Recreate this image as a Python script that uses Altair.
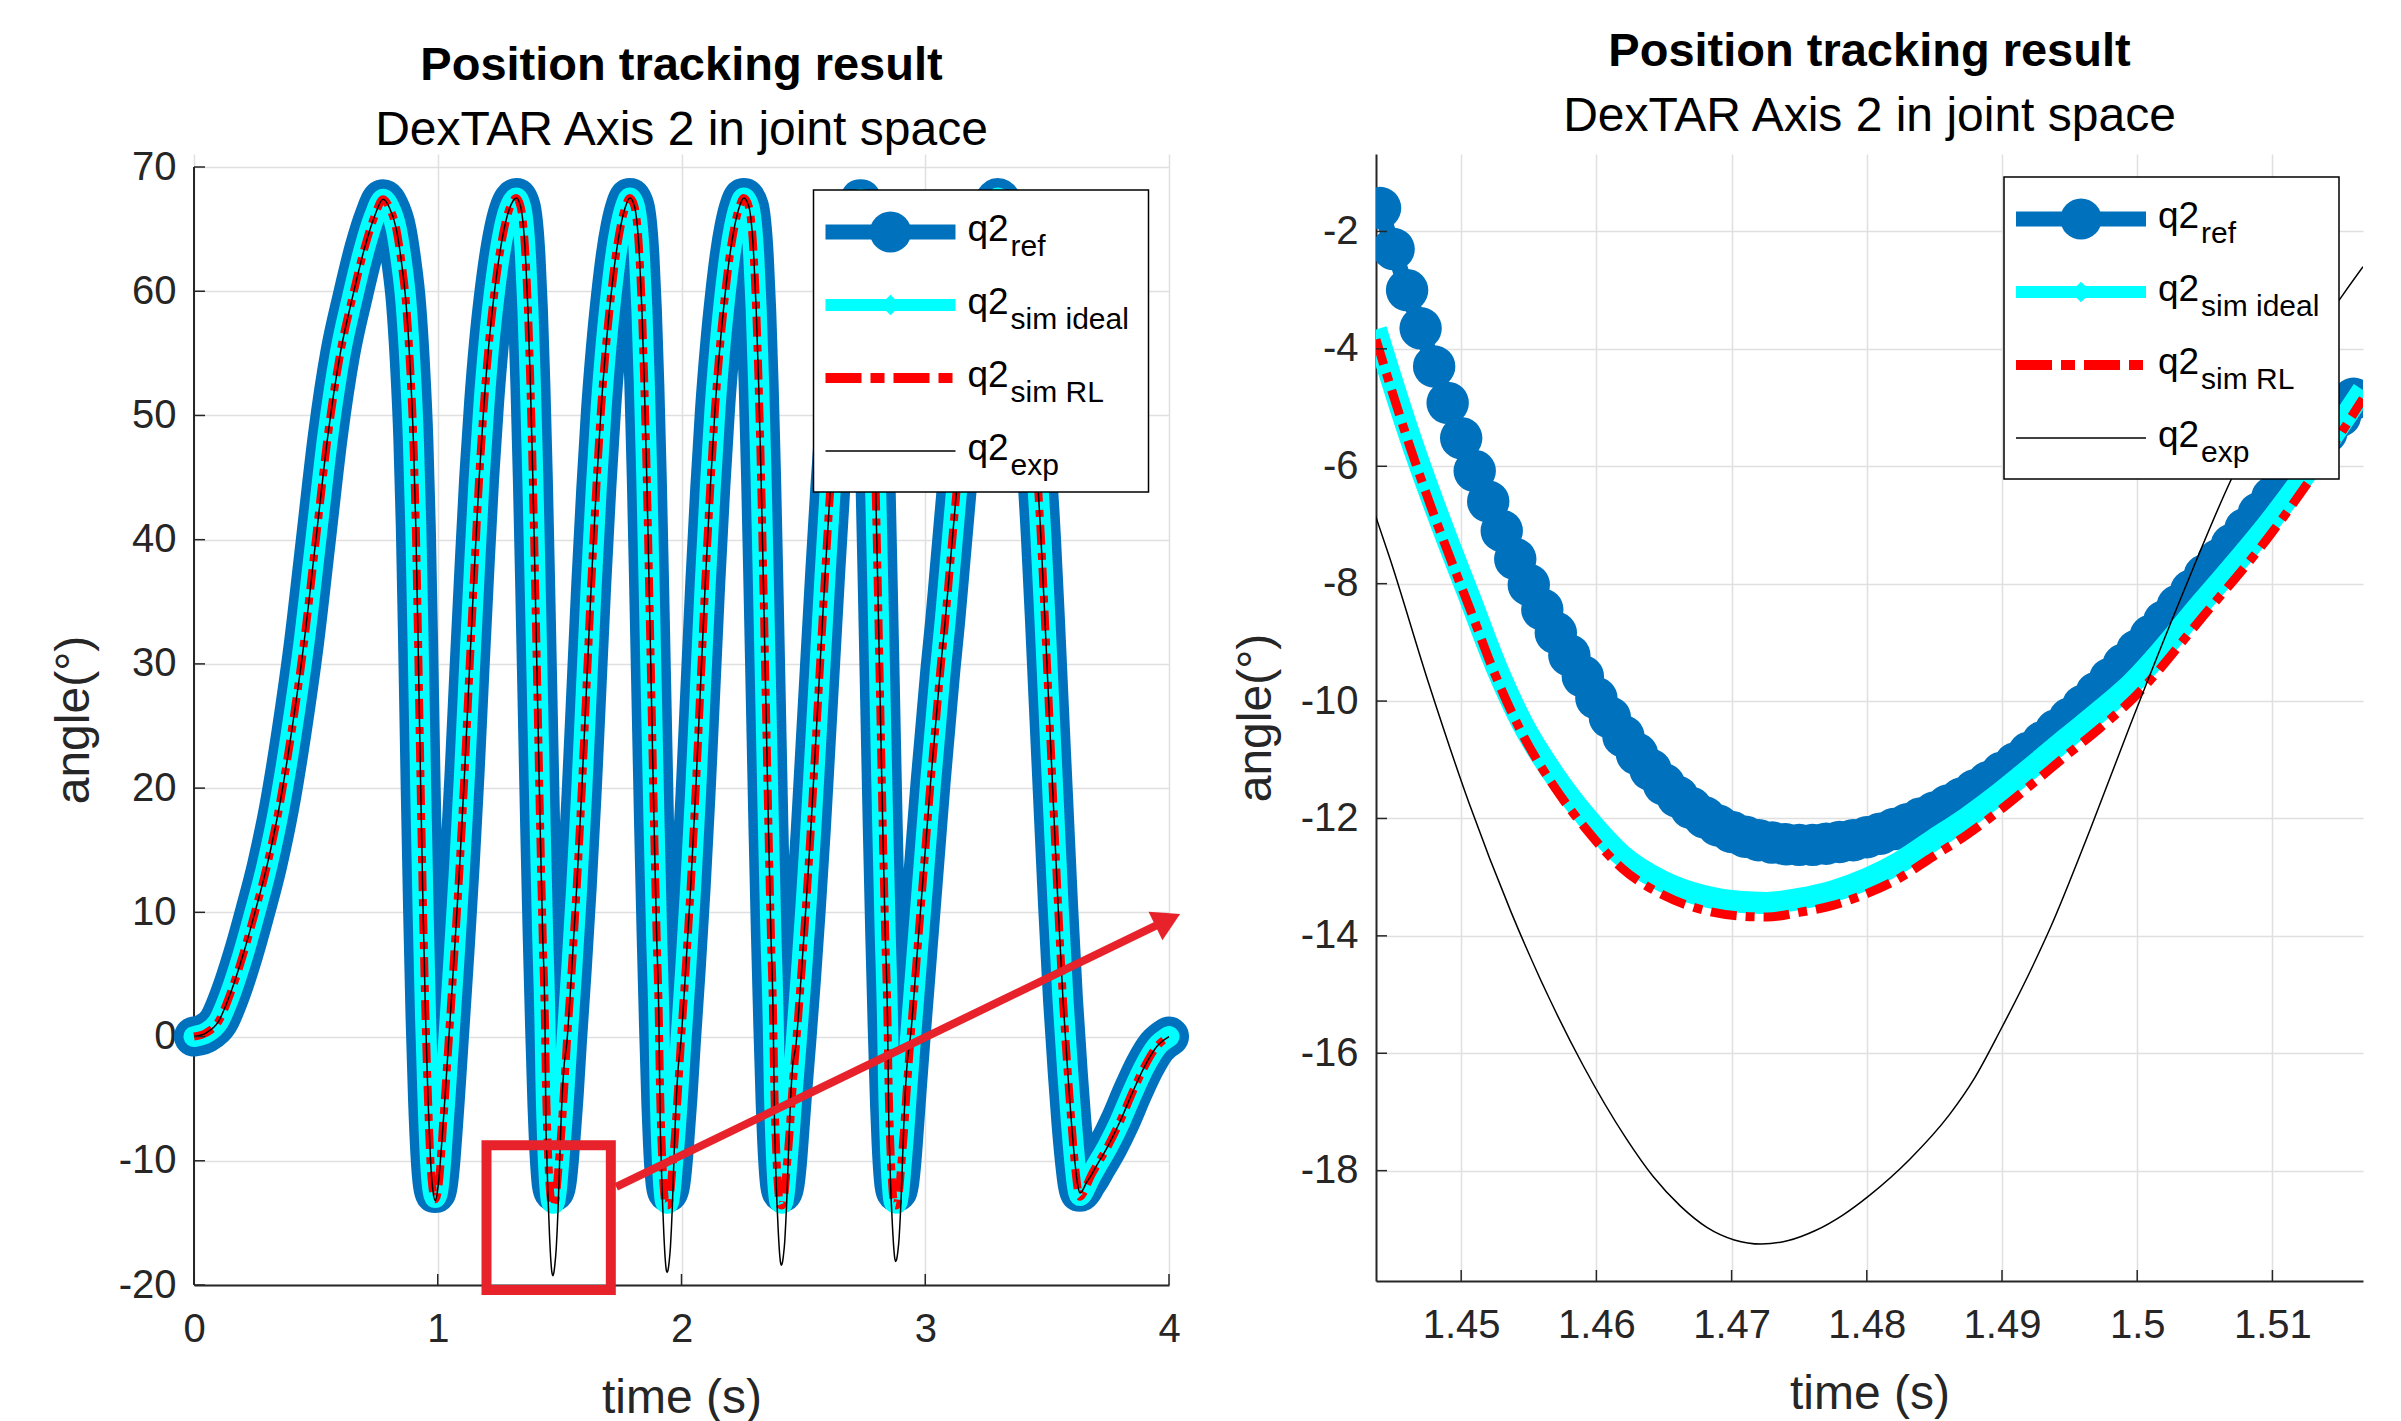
import altair as alt
import pandas as pd

# ---------------- data ----------------
left_xticks = [0, 1, 2, 3, 4]
left_yticks = [-20, -10, 0, 10, 20, 30, 40, 50, 60, 70]
right_xticks = [1.45, 1.46, 1.47, 1.48, 1.49, 1.5, 1.51]
right_yticks = [-18, -16, -14, -12, -10, -8, -6, -4, -2]

legend_main = "q2"
legend_subs = ["ref", "sim ideal", "sim RL", "exp"]

left_t = [
    0.000, 0.050, 0.100, 0.150, 0.200, 0.250, 0.300, 0.350, 0.400, 0.450, 0.500, 0.550, 0.600, 0.650, 0.700, 0.740, 0.776,
    0.800, 0.830, 0.850, 0.870, 0.885, 0.900, 0.910, 0.920, 0.930, 0.940, 0.950, 0.960, 0.970, 0.980, 0.990,
    1.000, 1.010, 1.020, 1.030, 1.040, 1.050, 1.070, 1.090, 1.110, 1.130, 1.150, 1.170, 1.190, 1.210, 1.230, 1.250, 1.270, 1.290, 1.310, 1.322,
    1.340, 1.360, 1.370, 1.380, 1.390, 1.400, 1.410, 1.420, 1.430, 1.440, 1.444, 1.450, 1.456, 1.462, 1.468, 1.4765,
    1.4865, 1.4965, 1.5065, 1.5165, 1.530, 1.550, 1.570, 1.590, 1.610, 1.630, 1.650, 1.670, 1.690, 1.710, 1.730, 1.750, 1.770, 1.788,
    1.8075, 1.8275, 1.8375, 1.8475, 1.8575, 1.8675, 1.8775, 1.8875, 1.8975, 1.9075, 1.9115, 1.9175, 1.9235, 1.9295, 1.9355, 1.944,
    1.954, 1.964, 1.974, 1.984, 1.9975, 2.0175, 2.0375, 2.0575, 2.0775, 2.0975, 2.1175, 2.1375, 2.1575, 2.1775, 2.1975, 2.2175, 2.2375, 2.2555,
    2.2765, 2.2965, 2.3065, 2.3165, 2.3265, 2.3365, 2.3465, 2.3565, 2.3665, 2.3765, 2.3805, 2.3865, 2.3925, 2.3985, 2.4045, 2.413,
    2.423, 2.433, 2.443, 2.453, 2.470, 2.490, 2.510, 2.530, 2.550, 2.570, 2.590, 2.610, 2.630, 2.650, 2.670, 2.690, 2.710, 2.725, 2.735,
    2.7455, 2.7655, 2.7755, 2.7855, 2.7955, 2.8055, 2.8155, 2.8255, 2.8355, 2.8455, 2.8495, 2.8555, 2.8615, 2.8675, 2.8735, 2.882,
    2.892, 2.902, 2.912, 2.922, 2.942, 2.962, 2.982, 3.002, 3.022, 3.042, 3.062, 3.082, 3.102, 3.122, 3.142, 3.162, 3.182, 3.202, 3.222, 3.242, 3.262, 3.282, 3.297,
    3.325, 3.355, 3.385, 3.415, 3.445, 3.475, 3.490, 3.505, 3.525, 3.545, 3.565, 3.585, 3.600, 3.615, 3.625, 3.635,
    3.645, 3.660, 3.680, 3.700, 3.750, 3.800, 3.850, 3.900, 3.950, 4.000]

left_ref = [
    0.0, 0.3, 1.2, 3.5, 6.5, 10.0, 13.8, 18.5, 24.5, 31.5, 40.0, 48.5, 55.0, 59.5, 63.5, 66.0, 67.4,
    66.8, 65.0, 62.5, 59.0, 54.5, 48.0, 41.0, 31.0, 20.0, 10.0, 1.5, -5.0, -9.5, -11.9, -12.6,
    -12.0, -10.2, -7.6, -4.8, -1.8, 1.2, 7.3, 13.8, 21.2, 29.5, 37.5, 45.0, 51.0, 55.8, 59.5, 62.5, 64.8, 66.4, 67.3, 67.5,
    66.8, 62.8, 58.5, 52.5, 45.0, 36.0, 26.5, 17.0, 8.5, 1.0, -1.6, -5.5, -8.45, -10.55, -11.9, -12.45,
    -11.85, -10.05, -7.45, -4.75, -0.4, 5.5, 12.0, 19.5, 28.0, 36.5, 44.0, 50.5, 55.5, 59.5, 62.8, 65.2, 66.8, 67.5,
    66.8, 62.8, 58.5, 52.5, 45.0, 36.0, 26.5, 17.0, 8.5, 1.0, -1.6, -5.5, -8.45, -10.55, -11.9, -12.5,
    -11.85, -10.05, -7.45, -4.75, -0.4, 5.5, 12.0, 19.5, 28.0, 36.5, 44.0, 50.5, 55.5, 59.5, 62.8, 65.2, 66.8, 67.5,
    66.8, 62.8, 58.5, 52.5, 45.0, 36.0, 26.5, 17.0, 8.5, 1.0, -1.6, -5.5, -8.45, -10.55, -11.9, -12.5,
    -11.85, -10.05, -7.45, -4.75, -0.6, 4.6, 10.3, 16.5, 23.5, 30.5, 37.5, 44.0, 49.8, 54.8, 59.0, 62.5, 65.2, 66.7, 67.4,
    66.8, 62.8, 58.5, 52.5, 45.0, 36.0, 26.5, 17.0, 8.5, 1.0, -1.6, -5.5, -8.45, -10.55, -11.9, -12.5,
    -11.9, -10.1, -7.5, -4.75, 0.5, 5.5, 10.5, 15.5, 20.5, 25.0, 29.5, 33.5, 38.0, 42.5, 47.0, 51.5, 55.5, 59.0, 62.0, 64.5, 66.3, 67.2, 67.5,
    66.8, 64.8, 61.5, 56.5, 49.5, 40.0, 34.0, 27.5, 19.0, 10.5, 3.0, -3.0, -7.0, -10.2, -11.8, -12.5,
    -12.3, -11.8, -11.2, -10.5, -8.8, -6.8, -4.5, -2.4, -0.8, 0.0]

left_ideal = [
    0.0, 0.3, 1.2, 3.5, 6.5, 10.0, 13.8, 18.5, 24.5, 31.5, 40.0, 48.5, 55.0, 59.5, 63.5, 66.0, 67.4,
    66.8, 65.0, 62.5, 59.0, 54.5, 48.0, 41.0, 31.0, 20.0, 10.0, 1.5, -5.0, -9.9, -12.3, -12.95,
    -12.4, -10.5, -7.6, -4.8, -1.8, 1.2, 7.3, 13.8, 21.2, 29.5, 37.5, 45.0, 51.0, 55.8, 59.5, 62.5, 64.8, 66.4, 67.3, 67.5,
    66.8, 62.8, 58.5, 52.5, 45.0, 36.0, 26.5, 17.0, 8.5, 1.0, -3.65, -7.95, -10.8, -12.55, -13.35, -13.42,
    -12.35, -10.05, -7.6, -4.75, -0.4, 5.5, 12.0, 19.5, 28.0, 36.5, 44.0, 50.5, 55.5, 59.5, 62.8, 65.2, 66.8, 67.5,
    66.8, 62.8, 58.5, 52.5, 45.0, 36.0, 26.5, 17.0, 8.5, 1.0, -3.65, -7.95, -10.8, -12.55, -13.35, -13.42,
    -12.35, -10.05, -7.6, -4.75, -0.4, 5.5, 12.0, 19.5, 28.0, 36.5, 44.0, 50.5, 55.5, 59.5, 62.8, 65.2, 66.8, 67.5,
    66.8, 62.8, 58.5, 52.5, 45.0, 36.0, 26.5, 17.0, 8.5, 1.0, -3.65, -7.95, -10.8, -12.55, -13.35, -13.42,
    -12.35, -10.05, -7.6, -4.75, -0.6, 4.6, 10.3, 16.5, 23.5, 30.5, 37.5, 44.0, 49.8, 54.8, 59.0, 62.5, 65.2, 66.7, 67.4,
    66.8, 62.8, 58.5, 52.5, 45.0, 36.0, 26.5, 17.0, 8.5, 1.0, -3.65, -7.95, -10.8, -12.55, -13.35, -13.42,
    -12.35, -10.05, -7.6, -4.75, 0.5, 5.5, 10.5, 15.5, 20.5, 25.0, 29.5, 33.5, 38.0, 42.5, 47.0, 51.5, 55.5, 59.0, 62.0, 64.5, 66.3, 67.2, 67.5,
    66.8, 64.8, 61.5, 56.5, 49.5, 40.0, 34.0, 27.5, 19.0, 10.5, 3.0, -3.0, -7.0, -10.4, -12.1, -12.8,
    -12.6, -12.0, -11.2, -10.5, -8.8, -6.8, -4.5, -2.4, -0.8, 0.0]

left_rl = [
    0.0, 0.3, 1.2, 3.5, 6.5, 10.0, 13.8, 18.5, 24.5, 31.5, 40.0, 48.5, 55.0, 59.5, 63.5, 66.0, 67.4,
    66.8, 65.0, 62.5, 59.0, 54.5, 48.0, 41.0, 31.0, 20.0, 10.0, 1.5, -5.0, -10.0, -12.4, -13.1,
    -12.5, -10.6, -7.6, -4.8, -1.8, 1.2, 7.3, 13.8, 21.2, 29.5, 37.5, 45.0, 51.0, 55.8, 59.5, 62.5, 64.8, 66.4, 67.3, 67.5,
    66.8, 62.8, 58.5, 52.5, 45.0, 36.0, 26.5, 17.0, 8.5, 1.0, -3.8, -8.1, -10.95, -12.75, -13.55, -13.6,
    -12.55, -10.25, -7.8, -4.85, -0.4, 5.5, 12.0, 19.5, 28.0, 36.5, 44.0, 50.5, 55.5, 59.5, 62.8, 65.2, 66.8, 67.5,
    66.8, 62.8, 58.5, 52.5, 45.0, 36.0, 26.5, 17.0, 8.5, 1.0, -3.8, -8.1, -10.95, -12.75, -13.55, -13.6,
    -12.55, -10.25, -7.8, -4.85, -0.4, 5.5, 12.0, 19.5, 28.0, 36.5, 44.0, 50.5, 55.5, 59.5, 62.8, 65.2, 66.8, 67.5,
    66.8, 62.8, 58.5, 52.5, 45.0, 36.0, 26.5, 17.0, 8.5, 1.0, -3.8, -8.1, -10.95, -12.75, -13.55, -13.6,
    -12.55, -10.25, -7.8, -4.85, -0.6, 4.6, 10.3, 16.5, 23.5, 30.5, 37.5, 44.0, 49.8, 54.8, 59.0, 62.5, 65.2, 66.7, 67.4,
    66.8, 62.8, 58.5, 52.5, 45.0, 36.0, 26.5, 17.0, 8.5, 1.0, -3.8, -8.1, -10.95, -12.75, -13.55, -13.6,
    -12.55, -10.25, -7.8, -4.85, 0.5, 5.5, 10.5, 15.5, 20.5, 25.0, 29.5, 33.5, 38.0, 42.5, 47.0, 51.5, 55.5, 59.0, 62.0, 64.5, 66.3, 67.2, 67.5,
    66.8, 64.8, 61.5, 56.5, 49.5, 40.0, 34.0, 27.5, 19.0, 10.5, 3.0, -3.0, -7.0, -10.5, -12.2, -12.9,
    -12.7, -12.1, -11.2, -10.5, -8.8, -6.8, -4.5, -2.4, -0.8, 0.0]

left_exp_t = [
    0.000, 0.050, 0.100, 0.150, 0.200, 0.250, 0.300, 0.350, 0.400, 0.450, 0.500, 0.550, 0.600, 0.650, 0.700, 0.740, 0.776,
    0.800, 0.830, 0.850, 0.870, 0.885, 0.900, 0.910, 0.920, 0.930, 0.940, 0.950, 0.960, 0.970, 0.980, 0.990,
    1.000, 1.010, 1.020, 1.030, 1.040, 1.050, 1.070, 1.090, 1.110, 1.130, 1.150, 1.170, 1.190, 1.210, 1.230, 1.250, 1.270, 1.290, 1.310, 1.322,
    1.340, 1.360, 1.370, 1.380, 1.390, 1.400, 1.410, 1.420, 1.430, 1.440,
    1.4436, 1.4476, 1.4506, 1.4537, 1.4590, 1.4642, 1.4682, 1.4722, 1.4762, 1.4802, 1.4861, 1.4899, 1.4936, 1.4995, 1.5069, 1.5166,
    1.530, 1.550, 1.570, 1.590, 1.610, 1.630, 1.650, 1.670, 1.690, 1.710, 1.730, 1.750, 1.770, 1.788,
    1.8075, 1.8275, 1.8375, 1.8475, 1.8575, 1.8675, 1.8775, 1.8875, 1.8975, 1.9075,
    1.9124, 1.9164, 1.9194, 1.9225, 1.9278, 1.9330, 1.9370, 1.9410, 1.9450, 1.9490, 1.9549, 1.9587, 1.9624, 1.9683, 1.9757, 1.9854,
    1.9975, 2.0175, 2.0375, 2.0575, 2.0775, 2.0975, 2.1175, 2.1375, 2.1575, 2.1775, 2.1975, 2.2175, 2.2375, 2.2555,
    2.2765, 2.2965, 2.3065, 2.3165, 2.3265, 2.3365, 2.3465, 2.3565, 2.3665, 2.3765,
    2.3814, 2.3854, 2.3884, 2.3915, 2.3968, 2.4020, 2.4060, 2.4100, 2.4140, 2.4180, 2.4239, 2.4277, 2.4314, 2.4373, 2.4447, 2.4544,
    2.470, 2.490, 2.510, 2.530, 2.550, 2.570, 2.590, 2.610, 2.630, 2.650, 2.670, 2.690, 2.710, 2.725, 2.735,
    2.7455, 2.7655, 2.7755, 2.7855, 2.7955, 2.8055, 2.8155, 2.8255, 2.8355, 2.8455,
    2.8504, 2.8544, 2.8574, 2.8605, 2.8658, 2.8710, 2.8750, 2.8790, 2.8830, 2.8870, 2.8929, 2.8967, 2.9004, 2.9063, 2.9137, 2.9234,
    2.942, 2.962, 2.982, 3.002, 3.022, 3.042, 3.062, 3.082, 3.102, 3.122, 3.142, 3.162, 3.182, 3.202, 3.222, 3.242, 3.262, 3.282, 3.297,
    3.325, 3.355, 3.385, 3.415, 3.445, 3.475, 3.490, 3.505, 3.525, 3.545, 3.565, 3.585, 3.600, 3.615, 3.625, 3.635,
    3.645, 3.660, 3.680, 3.700, 3.750, 3.800, 3.850, 3.900, 3.950, 4.000]

left_exp = [
    0.0, 0.3, 1.2, 3.5, 6.5, 10.0, 13.8, 18.5, 24.5, 31.5, 40.0, 48.5, 55.0, 59.5, 63.5, 66.0, 67.4,
    66.8, 65.0, 62.5, 59.0, 54.5, 48.0, 41.0, 31.0, 20.0, 10.0, 1.5, -5.0, -9.8, -12.4, -13.2,
    -12.3, -10.2, -7.6, -4.8, -1.8, 1.2, 7.3, 13.8, 21.2, 29.5, 37.5, 45.0, 51.0, 55.8, 59.5, 62.5, 64.8, 66.4, 67.3, 67.5,
    66.8, 62.8, 58.5, 52.5, 45.0, 36.0, 26.5, 17.0, 8.5, 1.0,
    -6.8, -9.7, -11.75, -13.6, -16.2, -18.1, -18.97, -19.25, -19.02, -18.42, -17.05, -15.6, -13.85, -10.4, -6.25, -2.75,
    -0.4, 5.5, 12.0, 19.5, 28.0, 36.5, 44.0, 50.5, 55.5, 59.5, 62.8, 65.2, 66.8, 67.5,
    66.8, 62.8, 58.5, 52.5, 45.0, 36.0, 26.5, 17.0, 8.5, 1.0,
    -6.8, -9.7, -11.75, -13.5, -16.0, -17.85, -18.72, -19.0, -18.78, -18.2, -16.85, -15.4, -13.7, -10.3, -6.25, -2.75,
    -0.4, 5.5, 12.0, 19.5, 28.0, 36.5, 44.0, 50.5, 55.5, 59.5, 62.8, 65.2, 66.8, 67.5,
    66.8, 62.8, 58.5, 52.5, 45.0, 36.0, 26.5, 17.0, 8.5, 1.0,
    -6.8, -9.7, -11.7, -13.35, -15.6, -17.35, -18.15, -18.4, -18.2, -17.65, -16.4, -15.0, -13.4, -10.2, -6.25, -2.75,
    -0.6, 4.6, 10.3, 16.5, 23.5, 30.5, 37.5, 44.0, 49.8, 54.8, 59.0, 62.5, 65.2, 66.7, 67.4,
    66.8, 62.8, 58.5, 52.5, 45.0, 36.0, 26.5, 17.0, 8.5, 1.0,
    -6.8, -9.65, -11.65, -13.25, -15.4, -17.05, -17.86, -18.1, -17.92, -17.4, -16.2, -14.85, -13.3, -10.15, -6.25, -2.75,
    0.5, 5.5, 10.5, 15.5, 20.5, 25.0, 29.5, 33.5, 38.0, 42.5, 47.0, 51.5, 55.5, 59.0, 62.0, 64.5, 66.3, 67.2, 67.5,
    66.8, 64.8, 61.5, 56.5, 49.5, 40.0, 34.0, 27.5, 19.0, 10.5, 3.0, -3.0, -7.0, -10.3, -11.9, -12.6,
    -12.4, -11.8, -11.2, -10.5, -8.8, -6.8, -4.5, -2.4, -0.8, 0.0]

# zoomed panel
right_ref_t = [
    1.444, 1.445, 1.446, 1.447, 1.448, 1.449, 1.450, 1.451, 1.452, 1.453, 1.454, 1.455, 1.456, 1.457, 1.458, 1.459,
    1.460, 1.461, 1.462, 1.463, 1.464, 1.465, 1.466, 1.467, 1.468, 1.469, 1.470, 1.471, 1.472, 1.473, 1.474, 1.475,
    1.476, 1.477, 1.478, 1.479, 1.480, 1.481, 1.482, 1.483, 1.484, 1.485, 1.486, 1.487, 1.488, 1.489, 1.490, 1.491,
    1.492, 1.493, 1.494, 1.495, 1.496, 1.497, 1.498, 1.499, 1.500, 1.501, 1.502, 1.503, 1.504, 1.505, 1.506, 1.507,
    1.508, 1.509, 1.510, 1.511, 1.512, 1.513, 1.514, 1.515, 1.516]
right_ref = [
    -1.60, -2.30, -3.00, -3.65, -4.30, -4.92, -5.52, -6.08, -6.60, -7.10, -7.58, -8.02, -8.44, -8.84, -9.22, -9.58,
    -9.95, -10.28, -10.60, -10.90, -11.17, -11.42, -11.63, -11.82, -11.98, -12.12, -12.23, -12.31, -12.37, -12.41, -12.44, -12.45,
    -12.45, -12.43, -12.40, -12.37, -12.32, -12.26, -12.18, -12.10, -12.00, -11.90, -11.78, -11.66, -11.52, -11.38, -11.22, -11.06,
    -10.88, -10.70, -10.50, -10.30, -10.08, -9.86, -9.62, -9.38, -9.14, -8.89, -8.64, -8.38, -8.12, -7.86, -7.60, -7.34,
    -7.07, -6.80, -6.53, -6.26, -5.98, -5.70, -5.42, -5.14, -4.85]

right_sim_t = [
    1.4437, 1.4461, 1.4481, 1.4490, 1.4506, 1.4526, 1.4545, 1.4570, 1.4593, 1.4619, 1.4649, 1.4679, 1.4705, 1.4726,
    1.4750, 1.4775, 1.4800, 1.4824, 1.4849, 1.4874, 1.4899, 1.4923, 1.4948, 1.4973, 1.4995, 1.5049, 1.5099, 1.5136, 1.5167]
right_rl = [
    -3.84, -5.59, -6.90, -7.45, -8.40, -9.60, -10.55, -11.50, -12.20, -12.85, -13.30, -13.56, -13.66, -13.68,
    -13.60, -13.48, -13.28, -13.02, -12.65, -12.28, -11.85, -11.40, -10.92, -10.45, -10.00, -8.55, -7.15, -5.95, -4.85]
right_ideal = [
    -3.67, -5.42, -6.72, -7.27, -8.22, -9.42, -10.37, -11.30, -11.99, -12.63, -13.07, -13.32, -13.42, -13.44,
    -13.37, -13.24, -13.03, -12.75, -12.37, -11.99, -11.56, -11.11, -10.63, -10.16, -9.72, -8.29, -6.92, -5.76, -4.70]

right_exp_t = [
    1.4436, 1.4447, 1.4476, 1.4506, 1.4537, 1.4590, 1.4622, 1.4642, 1.4662, 1.4682, 1.4702, 1.4722, 1.4742, 1.4762,
    1.4782, 1.4802, 1.4832, 1.4861, 1.4879, 1.4899, 1.4923, 1.4936, 1.4965, 1.4995, 1.5034, 1.5069, 1.5153, 1.5167]
right_exp = [
    -6.80, -7.55, -9.70, -11.75, -13.60, -16.20, -17.45, -18.10, -18.60, -18.97, -19.18, -19.25, -19.19, -19.02,
    -18.76, -18.42, -17.80, -17.05, -16.45, -15.60, -14.50, -13.85, -12.20, -10.40, -8.15, -6.25, -3.05, -2.60]

# zoom box and arrow (data coordinates of the left panel)
box_t = [1.20, 1.71]
box_v = [-8.75, -20.4]
arrow_t = [1.732, 3.995]
arrow_v = [-12.1, 9.39]

assert len(left_t) == len(left_ref) == len(left_ideal) == len(left_rl)
assert len(left_exp_t) == len(left_exp)
assert len(right_ref_t) == len(right_ref)
assert len(right_sim_t) == len(right_rl) == len(right_ideal)
assert len(right_exp_t) == len(right_exp)

# ---------------- styling ----------------
FONT = "Liberation Sans"
BLUE = "#0072BD"
CYAN = "#00FFFF"
RED = "#FF0000"
ANN = "#E8222A"
AX = "#262626"

LW, LH = 975, 1131          # left plot area (top 13 px above the 70 line)
LTOP = 71.047               # value at the very top of the left plot area
RW, RH = 987, 1127
LEG_W, LEG_H = 335, 302
ROWS = [42, 115, 188, 261]
TICK = 11


def df(t, v):
    return pd.DataFrame({"t": t, "v": v})


one = pd.DataFrame({"k": [0]})


def axis(vals, title, is_x, domain=True):
    return alt.Axis(values=vals, title=title, labelExpr="'' + datum.value",
                    labelFlush=False, labelOverlap=False, ticks=False, tickSize=0, domain=domain,
                    labelPadding=24 if is_x else 18, titlePadding=25 if is_x else 20,
                    grid=True)


def enc(xdom, ydom, xt, yt, ydomain_line=True):
    x = alt.X("t:Q", scale=alt.Scale(domain=xdom, nice=False, zero=False), axis=axis(xt, "time (s)", True))
    y = alt.Y("v:Q", scale=alt.Scale(domain=ydom, nice=False, zero=False),
              axis=axis(yt, "angle(°)", False, ydomain_line))
    return x, y


def legend_layers(bx, by):
    base = alt.Chart(one)
    L = [base.mark_rect(fill="white", stroke="black", strokeWidth=1.5).encode(
        x=alt.value(bx), x2=alt.value(bx + LEG_W), y=alt.value(by), y2=alt.value(by + LEG_H))]
    x1, x2, xm = bx + 12, bx + 142, bx + 77
    r0, r1, r2, r3 = [by + r for r in ROWS]
    L.append(base.mark_rule(color=BLUE, strokeWidth=15).encode(x=alt.value(x1), x2=alt.value(x2), y=alt.value(r0)))
    L.append(base.mark_point(shape="circle", filled=True, size=1700, color=BLUE, opacity=1).encode(
        x=alt.value(xm), y=alt.value(r0)))
    L.append(base.mark_rule(color=CYAN, strokeWidth=12).encode(x=alt.value(x1), x2=alt.value(x2), y=alt.value(r1)))
    L.append(base.mark_point(shape="diamond", filled=True, size=420, color=CYAN, opacity=1).encode(
        x=alt.value(xm), y=alt.value(r1)))
    L.append(base.mark_rule(color=RED, strokeWidth=10, strokeDash=[36, 9, 14, 9]).encode(
        x=alt.value(x1), x2=alt.value(x2), y=alt.value(r2)))
    L.append(base.mark_rule(color="black", strokeWidth=1.5).encode(x=alt.value(x1), x2=alt.value(x2), y=alt.value(r3)))
    for r, sub in zip([r0, r1, r2, r3], legend_subs):
        L.append(base.mark_text(text=legend_main, fontSize=37, font=FONT, align="left", baseline="alphabetic",
                                color="black").encode(x=alt.value(bx + 154), y=alt.value(r + 9)))
        L.append(base.mark_text(text=sub, fontSize=30, font=FONT, align="left", baseline="alphabetic",
                                color="black").encode(x=alt.value(bx + 197), y=alt.value(r + 24)))
    return L


def tick_layers(x, y, xt, yt, h):
    tx = alt.Chart(pd.DataFrame({"t": xt})).mark_rule(color=AX, strokeWidth=1.5).encode(
        x=x, y=alt.value(h), y2=alt.value(h - TICK))
    ty = alt.Chart(pd.DataFrame({"v": yt})).mark_rule(color=AX, strokeWidth=1.5).encode(
        y=y, x=alt.value(0), x2=alt.value(TICK))
    return [tx, ty]


def title(offset):
    return alt.Title(text="Position tracking result", subtitle="DexTAR Axis 2 in joint space",
                     font=FONT, fontSize=47, fontWeight="bold", color="black",
                     subtitleFont=FONT, subtitleFontSize=48, subtitleFontWeight="normal",
                     subtitleColor="black", subtitlePadding=17, offset=offset, anchor="middle")


# ---------------- left panel ----------------
lx, ly = enc([0, 4], [-20, LTOP], left_xticks, left_yticks, ydomain_line=False)
L_layers = [
    alt.Chart(pd.DataFrame({"v": [left_yticks[0]], "v2": [left_yticks[-1]]})).mark_rule(
        color=AX, strokeWidth=2).encode(x=alt.value(0), y=ly, y2="v2:Q"),
    alt.Chart(df(left_t, left_ref)).mark_line(color=BLUE, strokeWidth=40, strokeCap="round", strokeJoin="round",
                                              interpolate="monotone").encode(x=lx, y=ly),
    alt.Chart(df(left_t, left_ideal)).mark_line(color=CYAN, strokeWidth=21, strokeCap="round", strokeJoin="round",
                                                interpolate="monotone").encode(x=lx, y=ly),
    alt.Chart(df(left_t, left_rl)).mark_line(color=RED, strokeWidth=8, strokeDash=[20, 8, 7, 8],
                                             interpolate="monotone").encode(x=lx, y=ly),
    alt.Chart(df(left_exp_t, left_exp)).mark_line(color="black", strokeWidth=1.5,
                                                  interpolate="monotone").encode(x=lx, y=ly),
    alt.Chart(pd.DataFrame({"t": [box_t[0]], "t2": [box_t[1]], "v": [box_v[0]], "v2": [box_v[1]]})).mark_rect(
        fillOpacity=0, stroke=ANN, strokeWidth=10).encode(x=lx, x2="t2:Q", y=ly, y2="v2:Q"),
    alt.Chart(pd.DataFrame({"t": [arrow_t[0]], "t2": [arrow_t[1]], "v": [arrow_v[0]], "v2": [arrow_v[1]]})).mark_rule(
        color=ANN, strokeWidth=8).encode(x=lx, x2="t2:Q", y=ly, y2="v2:Q"),
    alt.Chart(df([arrow_t[1]], [arrow_v[1]])).mark_point(shape="triangle-up", filled=True, size=1000, color=ANN,
                                                         opacity=1, angle=64).encode(x=lx, y=ly),
] + tick_layers(lx, ly, left_xticks, left_yticks, LH) + legend_layers(619.5, 36)

left = alt.layer(*L_layers).properties(width=LW, height=LH, title=title(-9))

# ---------------- right panel ----------------
rx, ry = enc([1.4437, 1.5167], [-19.88, -0.68], right_xticks, right_yticks)
R_layers = [
    alt.Chart(df(right_ref_t, right_ref)).mark_line(color=BLUE, strokeWidth=16, strokeCap="round", clip=True,
                                                    interpolate="monotone").encode(x=rx, y=ry),
    alt.Chart(df(right_ref_t, right_ref)).mark_circle(color=BLUE, size=1800, opacity=1, clip=True).encode(x=rx, y=ry),
    alt.Chart(df(right_sim_t, right_ideal)).mark_line(color=CYAN, strokeWidth=22, clip=True,
                                                      interpolate="monotone").encode(x=rx, y=ry),
    alt.Chart(df(right_sim_t, right_rl)).mark_line(color=RED, strokeWidth=9, strokeDash=[26, 9, 9, 9], clip=True,
                                                   interpolate="monotone").encode(x=rx, y=ry),
    alt.Chart(df(right_exp_t, right_exp)).mark_line(color="black", strokeWidth=1.5, clip=True,
                                                    interpolate="monotone").encode(x=rx, y=ry),
] + tick_layers(rx, ry, right_xticks, right_yticks, RH) + legend_layers(628, 23)

right = alt.layer(*R_layers).properties(width=RW, height=RH, title=title(12))

chart = alt.hconcat(left, right, spacing=43).properties(
    padding={"left": 42, "top": 20, "right": 5, "bottom": 0}
).configure_view(stroke=None).configure_axis(
    labelFont=FONT, titleFont=FONT, labelFontSize=40, titleFontSize=48, labelColor=AX, titleColor=AX,
    titleFontWeight="normal", domainColor=AX, domainWidth=2, gridColor="#e0e0e0", gridWidth=1.5
)

chart.save("out.html", embed_options={"renderer": "svg", "actions": False})
